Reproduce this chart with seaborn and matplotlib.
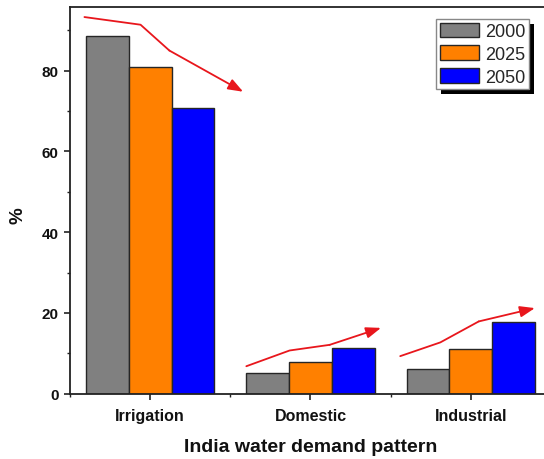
import matplotlib
matplotlib.use("Agg")
import matplotlib.pyplot as plt
from matplotlib.patches import Rectangle
from matplotlib.ticker import MultipleLocator, FixedLocator
import seaborn as sns
import pandas as pd

# Share of total water demand (%) by sector and year
sectors = ["Irrigation", "Domestic", "Industrial"]
years = ["2000", "2025", "2050"]
demand_2000 = [88.6, 5.0, 6.1]
demand_2025 = [80.9, 7.9, 11.0]
demand_2050 = [70.8, 11.3, 17.8]
bar_colors = ["#808080", "#ff8000", "#0000ff"]

# Trend arrows drawn over each group (data coordinates)
trend_irrigation = [(-0.41, 93.3), (-0.06, 91.4), (0.12, 85.0), (0.58, 74.8)]
trend_domestic = [(0.60, 6.8), (0.87, 10.7), (1.12, 12.1), (1.44, 16.3)]
trend_industrial = [(1.56, 9.3), (1.81, 12.7), (2.05, 17.9), (2.40, 21.2)]

rows = []
for year, vals in zip(years, [demand_2000, demand_2025, demand_2050]):
    for sector, v in zip(sectors, vals):
        rows.append({"sector": sector, "year": year, "value": v})
df = pd.DataFrame(rows)

sns.set_theme(style="white")
plt.rcParams["font.family"] = ["Liberation Sans", "DejaVu Sans"]

fig = plt.figure(figsize=(5.44, 4.60), dpi=100)
ax = fig.add_axes([0.1287, 0.1420, 0.884, 0.8407])

sns.barplot(data=df, x="sector", y="value", hue="year", order=sectors,
            hue_order=years, palette=bar_colors, saturation=1, width=0.8,
            edgecolor="#262626", linewidth=1.0, errorbar=None, ax=ax)

ax.set_xlim(-0.5, 2.5)
ax.set_ylim(0, 95.8)

# Spines: Origin-like frame
for side in ["left", "bottom", "top", "right"]:
    ax.spines[side].set_visible(True)
    ax.spines[side].set_color("#222222")
    ax.spines[side].set_linewidth(1.3)

ax.yaxis.set_major_locator(MultipleLocator(20))
ax.yaxis.set_minor_locator(MultipleLocator(10))
ax.xaxis.set_minor_locator(FixedLocator([-0.5, 0.5, 1.5]))
ax.tick_params(axis="both", which="major", direction="out", length=4.3,
               width=1.2, color="#222222", left=True, bottom=True)
ax.tick_params(axis="both", which="minor", direction="out", length=2.5,
               width=1.0, color="#222222", left=True, bottom=True)
ax.tick_params(axis="y", which="major", pad=4, labelsize=11)
ax.tick_params(axis="x", which="major", pad=6, labelsize=11.5)
for lbl in ax.get_yticklabels() + ax.get_xticklabels():
    lbl.set_fontweight("bold")
    lbl.set_color("#111111")

ax.set_xlabel("India water demand pattern", fontsize=14, fontweight="bold",
              color="#111111", labelpad=11)
ax.set_ylabel("%", fontsize=13.5, fontweight="bold", color="#111111",
              va="center", ha="center")
ax.yaxis.set_label_coords(-0.108, 0.462)

# Red trend arrows
red = "#e8161c"
for path in [trend_irrigation, trend_domestic, trend_industrial]:
    xs = [p[0] for p in path[:-1]]
    ys = [p[1] for p in path[:-1]]
    ax.plot(xs, ys, color=red, lw=1.3, solid_capstyle="round", zorder=5)
    ax.annotate("", xy=path[-1], xytext=path[-2],
                arrowprops=dict(arrowstyle="-|>,head_length=0.75,head_width=0.28",
                                color=red, lw=1.3, shrinkA=0, shrinkB=0),
                zorder=5)

# Legend with a solid drop shadow
handles, labels = ax.get_legend_handles_labels()
if ax.get_legend() is not None:
    ax.get_legend().remove()
leg = fig.legend(handles, labels, loc="upper left",
                 bbox_to_anchor=(436 / 544, 1 - 20 / 460),
                 bbox_transform=fig.transFigure, frameon=True, fancybox=False,
                 edgecolor="#888888", framealpha=1, fontsize=13,
                 handlelength=2.2, handleheight=0.85, labelspacing=0.3,
                 handletextpad=0.3, borderpad=0.2, borderaxespad=0)
leg.get_frame().set_linewidth(1.0)
leg.set_zorder(10)

fig.canvas.draw()
bb = leg.get_window_extent().transformed(fig.transFigure.inverted())
dx, dy = 5 / 544, 5 / 460
shadow = Rectangle((bb.x0 + dx, bb.y0 - dy), bb.width, bb.height,
                   transform=fig.transFigure, facecolor="black",
                   edgecolor="none", zorder=9)
fig.add_artist(shadow)

fig.savefig("out.png", dpi=100, facecolor="white")
